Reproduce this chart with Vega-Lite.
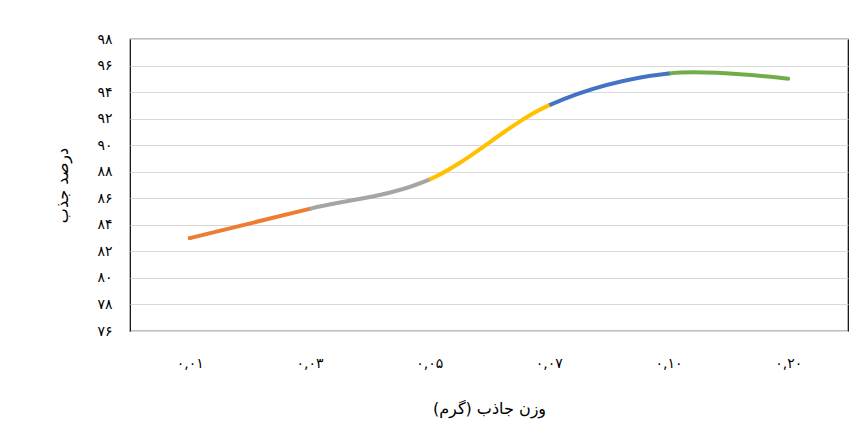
{
  "$schema": "https://vega.github.io/schema/vega-lite/v6.json",
  "width": 718,
  "height": 292,
  "autosize": {"type": "none"},
  "padding": {"left": 130, "top": 39, "right": 17, "bottom": 114},
  "background": "white",
  "config": {
    "view": {"stroke": "#000000", "strokeWidth": 1.2},
    "font": "DejaVu Sans"
  },
  "data": {
    "values": [
      {"w": "۰,۰۱", "v": 83.0},
      {"w": "۰,۰۳", "v": 85.2},
      {"w": "۰,۰۵", "v": 87.4},
      {"w": "۰,۰۷", "v": 93.0},
      {"w": "۰,۱۰", "v": 95.4},
      {"w": "۰,۲۰", "v": 95.0}
    ]
  },
  "encoding": {
    "x": {
      "field": "w",
      "type": "ordinal",
      "sort": null,
      "title": "وزن جاذب (گرم)",
      "axis": {
        "labelAngle": 0,
        "labelFont": "DejaVu Sans",
        "labelFontSize": 14,
        "labelColor": "#000000",
        "labelPadding": 25,
        "ticks": false,
        "domain": false,
        "grid": false,
        "titleFont": "DejaVu Sans",
        "titleFontSize": 16,
        "titleFontWeight": "normal",
        "titleColor": "#000000",
        "titlePadding": 30
      }
    },
    "y": {
      "field": "v",
      "type": "quantitative",
      "scale": {"domain": [76, 98], "nice": false, "zero": false},
      "title": "درصد جذب",
      "axis": {
        "values": [76, 78, 80, 82, 84, 86, 88, 90, 92, 94, 96, 98],
        "labelExpr": "{'76':'۷۶','78':'۷۸','80':'۸۰','82':'۸۲','84':'۸۴','86':'۸۶','88':'۸۸','90':'۹۰','92':'۹۲','94':'۹۴','96':'۹۶','98':'۹۸'}[toString(datum.value)]",
        "labelFont": "DejaVu Sans",
        "labelFontSize": 14,
        "labelColor": "#000000",
        "labelPadding": 18,
        "ticks": false,
        "domain": false,
        "grid": true,
        "gridColor": "#d9d9d9",
        "gridWidth": 1,
        "titleFont": "DejaVu Sans",
        "titleFontSize": 16,
        "titleFontWeight": "normal",
        "titleColor": "#000000",
        "titlePadding": 26
      }
    }
  },
  "layer": [
    {"mark": {"type": "line", "interpolate": "cardinal", "color": "#70AD47", "strokeWidth": 4, "strokeCap": "round", "strokeJoin": "round", "strokeDash": [0, 512.6, 300, 3000]}},
    {"mark": {"type": "line", "interpolate": "cardinal", "color": "#ED7D31", "strokeWidth": 4, "strokeCap": "round", "strokeJoin": "round", "strokeDash": [123.7, 3000]}},
    {"mark": {"type": "line", "interpolate": "cardinal", "color": "#A5A5A5", "strokeWidth": 4, "strokeCap": "butt", "strokeJoin": "round", "strokeDash": [0, 123.2, 124.2, 3000]}},
    {"mark": {"type": "line", "interpolate": "cardinal", "color": "#FFC000", "strokeWidth": 4, "strokeCap": "butt", "strokeJoin": "round", "strokeDash": [0, 246.8, 142.2, 3000]}},
    {"mark": {"type": "line", "interpolate": "cardinal", "color": "#4472C4", "strokeWidth": 4, "strokeCap": "butt", "strokeJoin": "round", "strokeDash": [0, 388.4, 124.6, 3000]}}
  ]
}
